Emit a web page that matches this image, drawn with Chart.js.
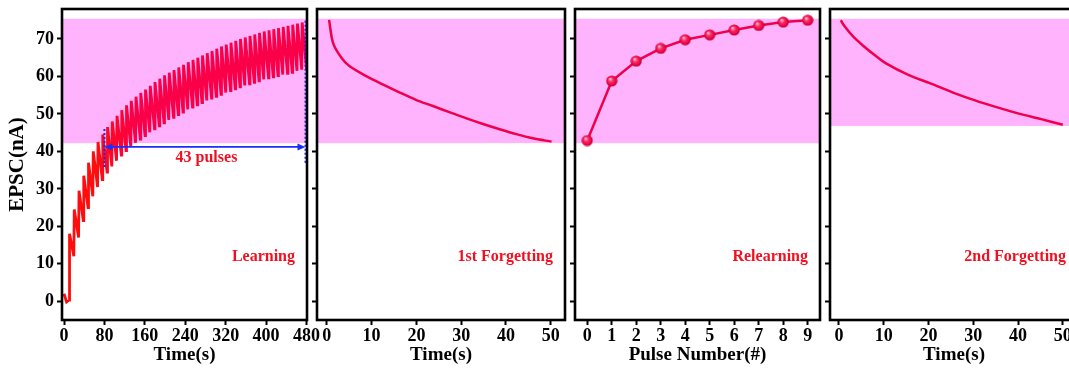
<!DOCTYPE html>
<html>
<head>
<meta charset="utf-8">
<script src="https://cdn.jsdelivr.net/npm/chart.js@4.4.1/dist/chart.umd.min.js"></script>
<style>
  body { margin: 0; background: #fff; overflow: hidden; width: 1069px; height: 372px; position: relative; }
  canvas { position: absolute; top: 0; }
</style>
</head>
<body>
<canvas id="c1" width="330" height="372" style="left:0px"></canvas>
<canvas id="c2" width="290" height="372" style="left:300px"></canvas>
<canvas id="c3" width="280" height="372" style="left:560px"></canvas>
<canvas id="c4" width="280" height="372" style="left:815px"></canvas>
<script>
// ---- data ----
// learning: start of each pulse (s), peak reached, value just before next pulse
const learnStart = [0, 5];
const learnStartEPSC = [2, -0.2];
const pulseTime = [10, 19.4, 28.8, 38.2, 47.6, 57, 66.4, 75.8, 85.2, 94.6, 104, 113.4, 122.8, 132.2, 141.6,
  151, 160.4, 169.8, 179.2, 188.6, 198, 207.4, 216.8, 226.2, 235.6, 245, 254.4, 263.8, 273.2, 282.6,
  292, 301.4, 310.8, 320.2, 329.6, 339, 348.4, 357.8, 367.2, 376.6, 386, 395.4, 404.8, 414.2, 423.6,
  433, 442.4, 451.8, 461.2, 470.6, 480];
const pulsePeak = [18, 24.5, 29.5, 33.5, 37, 40, 42.5, 44.5, 46.5, 48, 49.5, 51, 52.3, 53.5, 54.6,
  55.6, 56.5, 57.5, 58.5, 59.4, 60.3, 61, 61.7, 62.4, 63.1, 63.8, 64.4, 65, 65.6, 66.2,
  66.8, 67.4, 68, 68.5, 69, 69.5, 70, 70.4, 70.8, 71.2, 71.6, 72, 72.3, 72.6, 72.9,
  73.2, 73.5, 73.8, 74.1, 74.4, 74.7];
const pulseTrough = [12, 17, 21.5, 25, 28, 30.5, 32.5, 34.5, 36, 37.5, 39, 40.2, 41.3, 42.3, 43.3,
  44.2, 45.1, 46, 46.8, 47.6, 48.4, 49.1, 49.8, 50.5, 51.2, 51.8, 52.4, 53, 53.6, 54.2,
  54.7, 55.2, 55.7, 56.2, 56.7, 57.2, 57.6, 58, 58.4, 58.8, 59.2, 59.6, 59.9, 60.2, 60.5,
  60.8, 61.1, 61.5, 61.8, 62.1];

const forget1Time = [0.5, 1.4, 3.3, 5.1, 8.9, 12.6, 16.3, 20, 23.7, 27.5, 31.2, 34.9, 38.6, 42.3, 46, 50.2];
const forget1EPSC = [75.1, 68.9, 64.9, 62.7, 60, 57.8, 55.7, 53.7, 52.1, 50.4, 48.8, 47.3, 45.9, 44.6, 43.5, 42.6];

const relearnPulse = [0, 1, 2, 3, 4, 5, 6, 7, 8, 9];
const relearnEPSC = [42.9, 58.8, 64.1, 67.5, 69.8, 71.1, 72.4, 73.6, 74.5, 75];

const forget2Time = [0.4, 1.3, 3.2, 5.4, 8.4, 10.6, 15.5, 20.3, 25.5, 30.4, 35.2, 40.4, 45.2, 50];
const forget2EPSC = [75, 73.3, 70.6, 68.2, 65.3, 63.4, 60.4, 58.2, 55.7, 53.6, 51.8, 50, 48.6, 47.1];

const yTicks = [0, 10, 20, 30, 40, 50, 60, 70];
const xTicksLearn = [0, 80, 160, 240, 320, 400, 480];
const xTicksTime = [0, 10, 20, 30, 40, 50];
const xTicksPulse = [0, 1, 2, 3, 4, 5, 6, 7, 8, 9];

// ---- style ----
const SERIF = "'Liberation Serif', 'Times New Roman', serif";
const BAND = '#ffb3fd';
const CURVE = '#f0004c';
const TEXTRED = '#f01020';
const BLUE = '#1a2cff';

// build learning points from the read values
const learnPts = [];
for (let i = 0; i < learnStart.length; i++) learnPts.push({x: learnStart[i], y: learnStartEPSC[i]});
for (let k = 0; k < pulseTime.length; k++) {
  const before = k === 0 ? 0.3 : pulseTrough[k - 1];
  learnPts.push({x: pulseTime[k], y: before});
  learnPts.push({x: pulseTime[k] + 0.9, y: pulsePeak[k]});
}

function sphere() {
  const c = document.createElement('canvas');
  c.width = 12; c.height = 12;
  const g = c.getContext('2d');
  const rg = g.createRadialGradient(4.3, 4, 0.4, 6, 6, 6);
  rg.addColorStop(0, '#ffc2d4');
  rg.addColorStop(0.35, '#ff2a68');
  rg.addColorStop(0.8, '#e0003f');
  rg.addColorStop(1, '#a00030');
  g.fillStyle = rg;
  g.beginPath(); g.arc(6, 6, 5.6, 0, Math.PI * 2); g.fill();
  return c;
}

const panelPlugin = {
  id: 'panel',
  beforeDatasetsDraw(chart, args, opts) {
    const {ctx, chartArea: a, scales: {y}} = chart;
    const top = y.getPixelForValue(opts.band[1]);
    const bot = y.getPixelForValue(opts.band[0]);
    ctx.save();
    ctx.fillStyle = BAND;
    ctx.fillRect(a.left, top, a.right - a.left, bot - top);
    ctx.restore();
  },
  afterDatasetsDraw(chart, args, opts) {
    const {ctx, chartArea: a, scales: {x, y}} = chart;
    ctx.save();
    if (opts.pulses) {
      const p = opts.pulses;
      ctx.strokeStyle = BLUE;
      ctx.lineWidth = 2;
      ctx.setLineDash([2, 2]);
      ctx.beginPath();
      ctx.moveTo(x.getPixelForValue(p.left), y.getPixelForValue(p.leftSpan[0]));
      ctx.lineTo(x.getPixelForValue(p.left), y.getPixelForValue(p.leftSpan[1]));
      ctx.moveTo(x.getPixelForValue(p.right), y.getPixelForValue(p.rightSpan[0]));
      ctx.lineTo(x.getPixelForValue(p.right), y.getPixelForValue(p.rightSpan[1]));
      ctx.stroke();
      ctx.setLineDash([]);
      const yy = y.getPixelForValue(p.level);
      const x0 = x.getPixelForValue(p.left), x1 = x.getPixelForValue(p.right);
      ctx.lineWidth = 1.6;
      ctx.beginPath(); ctx.moveTo(x0 + 4, yy); ctx.lineTo(x1 - 4, yy); ctx.stroke();
      ctx.fillStyle = BLUE;
      ctx.beginPath(); ctx.moveTo(x0, yy); ctx.lineTo(x0 + 8, yy - 3.5); ctx.lineTo(x0 + 8, yy + 3.5); ctx.fill();
      ctx.beginPath(); ctx.moveTo(x1, yy); ctx.lineTo(x1 - 8, yy - 3.5); ctx.lineTo(x1 - 8, yy + 3.5); ctx.fill();
      ctx.fillStyle = TEXTRED;
      ctx.font = 'bold 16px ' + SERIF;
      ctx.textAlign = 'center';
      ctx.textBaseline = 'middle';
      ctx.fillText(p.text, x.getPixelForValue(p.textAt[0]), y.getPixelForValue(p.textAt[1]));
    }
    ctx.fillStyle = TEXTRED;
    ctx.font = 'bold 16px ' + SERIF;
    ctx.textAlign = 'right';
    ctx.textBaseline = 'middle';
    ctx.fillText(opts.label, a.right - 12, y.getPixelForValue(11.8));
    ctx.strokeStyle = '#000';
    ctx.lineWidth = 2.6;
    ctx.strokeRect(a.left, a.top, a.right - a.left, a.bottom - a.top);
    ctx.restore();
  }
};

function fixedScale(size, horizontal) {
  return function (scale) {
    if (horizontal) scale.height = size; else scale.width = size;
    scale.paddingLeft = scale.paddingRight = scale.paddingTop = scale.paddingBottom = 0;
  };
}

function makePanel(id, o) {
  new Chart(document.getElementById(id), {
    type: o.type || 'line',
    data: { datasets: o.datasets },
    options: {
      responsive: false,
      animation: false,
      devicePixelRatio: 1,
      layout: { padding: { top: 9, right: o.padRight, left: 0, bottom: 0 } },
      plugins: {
        legend: { display: false },
        tooltip: { enabled: false },
        panel: o.panel
      },
      scales: {
        x: {
          type: 'linear',
          min: o.xMin, max: o.xMax,
          afterBuildTicks: s => { s.ticks = o.xTicks.map(v => ({value: v})); },
          afterFit: fixedScale(52, true),
          border: { display: false },
          grid: { drawOnChartArea: false, drawTicks: true, tickLength: 5, tickWidth: 2, tickColor: '#000' },
          ticks: { color: '#000', font: { family: SERIF, size: 18, weight: 'bold' }, padding: 1, maxRotation: 0, autoSkip: false },
          title: { display: true, text: o.xTitle, color: '#000', font: { family: SERIF, size: 19, weight: 'bold' }, padding: { top: 0, bottom: 6 } }
        },
        y: {
          min: -5, max: 78,
          afterBuildTicks: s => { s.ticks = yTicks.map(v => ({value: v})); },
          afterFit: fixedScale(o.yWidth, false),
          border: { display: false },
          grid: { drawOnChartArea: false, drawTicks: true, tickLength: 5, tickWidth: 2, tickColor: '#000' },
          ticks: { display: o.yLabels, color: '#000', font: { family: SERIF, size: 18, weight: 'bold' }, padding: 3 },
          title: { display: o.yLabels, text: 'EPSC(nA)', color: '#000', font: { family: SERIF, size: 21, weight: 'bold' }, padding: { top: 5, bottom: 0 } }
        }
      }
    },
    plugins: [panelPlugin]
  });
}

makePanel('c1', {
  padRight: 23, yWidth: 62, yLabels: true,
  xMin: -4, xMax: 481, xTicks: xTicksLearn, xTitle: 'Time(s)',
  panel: {
    band: [42.2, 75.4], label: 'Learning',
    pulses: { left: 80, right: 478, level: 41.2, leftSpan: [35.8, 46.3], rightSpan: [37, 75], text: '43 pulses', textAt: [282, 38.2] }
  },
  datasets: [{
    data: learnPts,
    borderWidth: 2.8,
    pointRadius: 0,
    tension: 0,
    borderColor: ctx => {
      const {chart} = ctx;
      if (!chart.chartArea) return '#ff0d0d';
      const sx = chart.scales.x;
      const g = chart.ctx.createLinearGradient(sx.getPixelForValue(60), 0, sx.getPixelForValue(140), 0);
      g.addColorStop(0, '#ff0d0d');
      g.addColorStop(1, '#fa0048');
      return g;
    }
  }]
});

makePanel('c2', {
  padRight: 25, yWidth: 17, yLabels: false,
  xMin: -2.2, xMax: 53.2, xTicks: xTicksTime, xTitle: 'Time(s)',
  panel: { band: [42.2, 75.4], label: '1st Forgetting' },
  datasets: [{
    data: forget1Time.map((t, i) => ({x: t, y: forget1EPSC[i]})),
    borderColor: CURVE, borderWidth: 2.5, pointRadius: 0, tension: 0.3
  }]
});

makePanel('c3', {
  padRight: 20, yWidth: 15, yLabels: false,
  xMin: -0.5, xMax: 9.5, xTicks: xTicksPulse, xTitle: 'Pulse Number(#)',
  panel: { band: [42.2, 75.4], label: 'Relearning' },
  datasets: [{
    data: relearnPulse.map((p, i) => ({x: p, y: relearnEPSC[i]})),
    borderColor: CURVE, borderWidth: 2.5, tension: 0,
    pointStyle: sphere(), pointRadius: 6
  }]
});

makePanel('c4', {
  padRight: 17, yWidth: 15, yLabels: false,
  xMin: -2.0, xMax: 53.4, xTicks: xTicksTime, xTitle: 'Time(s)',
  panel: { band: [46.8, 75.4], label: '2nd Forgetting' },
  datasets: [{
    data: forget2Time.map((t, i) => ({x: t, y: forget2EPSC[i]})),
    borderColor: CURVE, borderWidth: 2.5, pointRadius: 0, tension: 0.3
  }]
});
</script>
</body>
</html>
